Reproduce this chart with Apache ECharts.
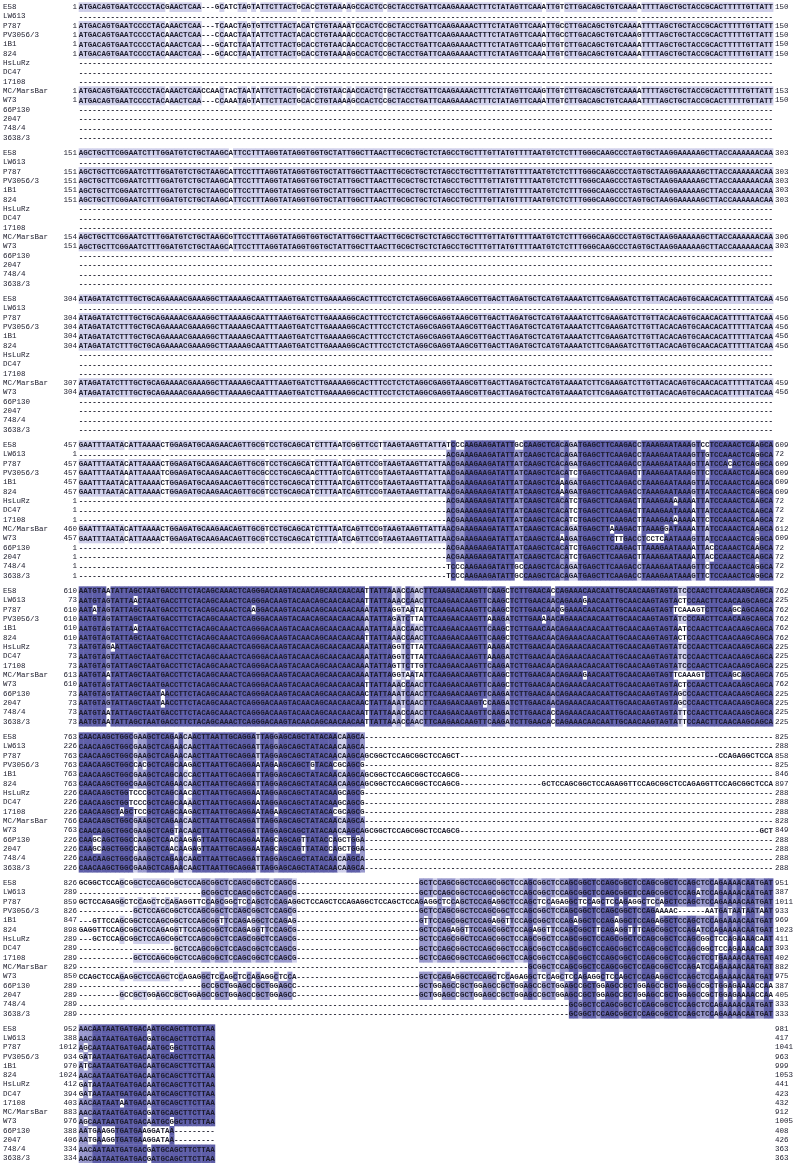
<!DOCTYPE html>
<html>
<head>
<meta charset="utf-8">
<script src="https://cdn.jsdelivr.net/npm/echarts@6/dist/echarts.min.js"></script>
<style>
  html, body { margin: 0; padding: 0; background: #fff; }
  #chart { width: 798px; height: 1163px; }
</style>
</head>
<body>
<div id="chart"></div>
<script>
  // sequence names (rows)
  const names = ['E58', 'LW613', 'P787', 'PV3056/3', 'iB1', '824', 'HsLuRz', 'DC47', '17108', 'MC/MarsBar', 'W73', '66P130', '2047', '748/4', '3638/3']
  const g = n => '-'.repeat(n) // run of alignment gaps

  // block 1 : columns 1..153
  const block1 = [
    'ATGACAGTGAATCCCCTACGAACTCAA' + g(3) + 'GCATCTAGTATTCTTACTGCACCTGTAAAAGCCACTCCGCT' + 'ACCTGATTCAAGAAAACTTTCTATAGTTCAAATTGTCTTGACAGCTGTCAAAATTTTAGCTGCTACCGCACTTTTTGTTATT',
    g(153),
    'ATGACAGTGAATCCCCTACAAACTCAA' + g(3) + 'TCAACTAGTGTTCTTACTACATCTGTAAAATCCACTCCGCT' + 'ACCTGATTCAAGAAAACTTTCTATAGTTCAAATTGCCTTGACAGCTGTCAAAATTTTAGCTGCTACCGCACTTTTTGTTATT',
    'ATGACAGTGAATCCCCTACAAACTCAA' + g(3) + 'CCAACTAATATTCTTACTACACCTGTAAAACCCACTCCGCT' + 'ACCTGATTCAAGAAAACTTTCTATAGTTCAAATTGCCTTGACAGCTGTCAAAGTTTTAGCTGCTACCGCACTTTTTGTTATT',
    'ATGACAGTGAATCCCCTACAAACTCAA' + g(3) + 'GCATCTAATATTCTTACTGCACCTGTAACAACCACTCCGCT' + 'ACCTGATTCAAGAAAACTTTCTATAGTTCAAGTTGTCTTGACAGCTGTCAAAATTTTAGCTGCTACCGCACTTTTTGTTATT',
    'ATGACAGTGAATCCCCTACAAACTCAA' + g(3) + 'GCACCTAATATTCTTACTGCACCTGTAAAAGCCACTCCGCT' + 'ACCTGATTCAAGAAAACTTTCTATAGTTCAAATTGTCTTGACAGCTGTCAAAATTTTAGCTGCTACCGCACTTTTTGTTATT',
    g(153),
    g(153),
    g(153),
    'ATGACAGTGAATCCCCTACAAACTCAACCAACTACTAATATTCTTACTGCACCTGTAACAACCACTCTGCT' + 'ACCTGATTCAAGAAAACTTTCTATAGTTCAAGTTGTCTTGACAGCTGTCAAAATTTTAGCTGCTACCGCACTTTTTGTTATT',
    'ATGACAGTGAATCCCCTACAAACTCAA' + g(3) + 'CCAAATAGTATTCTTACTGCACCTGTAAAAGCCACTCCGCT' + 'ACCTGATTCAAGAAAACTTTCTATAGTTCAAATTGTCTTGACAGCTGTCAAAATTTTAGCTGCTACCGCACTTTTTGTTATT',
    g(153),
    g(153),
    g(153),
    g(153)
  ]

  // block 2
  const b2a = 'AGCTGCTTCGGAATCTTTGGATGTCTGCTAAGCATTCCTTTAGGTATAGGTGGTGCTATTGGCTTAACTTG'
  const b2g = 'AGCTGCTTCGGAATCTTTGGATGTCTGCTAAGCGTTCCTTTAGGTATAGGTGGTGCTATTGGCTTAACTTG'
  const b2z = 'CGCTGCTCTAGCCTGCTTTGTTATGTTTTAATGTCTCTTTGGGCAAGCCCTAGTGCTAAGGAAAAAGCTTACCAAAAAACAA'
  const block2 = [
    b2a + b2z, g(153), b2a + b2z, b2a + b2z, b2g + b2z, b2a + b2z,
    g(153), g(153), g(153),
    b2g + b2z, b2a + b2z,
    g(153), g(153), g(153), g(153)
  ]

  // block 3
  const b3 = 'ATAGATATCTTTGCTGCAGAAAACGAAAGGCTTAAAAGCAATTTAAGTGATCTTGAAAAGGCACTTTCCTCTCTAGGCGAGGTAAGCGTTGACTTAGATGCTCATGTAAAATCTTCGAAGATCTTGTTACACAGTGCAACACATTTTTATCAA'
  const block3 = [
    b3, g(153), b3, b3, b3, b3,
    g(153), g(153), g(153),
    b3, b3,
    g(153), g(153), g(153), g(153)
  ]

  // block 4
  const b4p = 'GAATTTAATACATTAAAACTGGAGATGCAAGAACAGTTGCGTCCTGCAGCATCTTTAATCAGTTCCGTAA'
  const block4 = [
    'GAATTTAATACATTAAAACTGGAGATGCAAGAACAGTTGCGTCCTGCAGCATCTTTAATCGGTTCCTTAA' + 'GTAAGTTATTATCCCAAGAAGATATTGCCAAGCTCACAGATGAGCTTCAAGACCTAAAGAATAAAGTCCTCCAAACTCAAGCA',
    g(81) + 'ACGAAAGAAGATATTATCAAGCTCACAGATGAGCTTCAAGACCTAAAGAATAAAGTTGTCCAAACTCAGGCA',
    b4p + 'GTAAGTTATTAACGAAAGAAGATATTATCAAGCTCACAGATGAGCTTCAAGACCTAAAGAATAAAGTTATCCACACTCAGGCA',
    'GAATTTAATAAATTAAAATCGGAGATGCAAGAACAGTTGCGCCCTGCAGCAACTTTAGTCAGTTCCGTAA' + 'GTAAGTTATTAACGAAAGAAGATATTATCAAGCTCACATCTGAGCTTCAAGACTTAAAGAATAAAGTTCTCCAAACTCAAGCA',
    b4p + 'GTAAGTTATTAACGAAAGAAGATATTATCAAGCTCAAAGATGAGCTTCAAGACCTAAAGAATAAAGTTATCCAAACTCAAGCA',
    b4p + 'GTAAGTTATTAACGAAAGAAGATATTATCAAGCTCAAAGATGAGCTTCAAGACCTAAAGAATAAAGTTATCCAAACTCAGGCA',
    g(81) + 'ACGAAAGAAGATATTATCAAGCTCACATCTGAGCTTCAAGACTTAAAGAAAAAAATTATCCAAACTCAAGCA',
    g(81) + 'ACGAAAGAAGATATTATCAAGCTCACATCTGAGCTTCAAGACTTAAAGAATAAAATTATCCAAACTCAAGCA',
    g(81) + 'ACGAAAGAAGATATTATCAAGCTCACATCTGAGCTTCAAGACTTAAAGAAAAAAATTCTCCAAACTCAAGCA',
    b4p + 'GTAAGTTATTAACGAAAGAAGATATTATCAAGCTCACAGATGAGCTTAAAGACTTAAAGGATAAAATTATCCAAACTCAAGCA',
    b4p + 'GTAAGTTATTAACGAAAGAAGATATTATCAAGCTCAAAGATGAGCTTCTTGACCTCCTCAATAAAGTTATCCAAACTCAGGCA',
    g(81) + 'ACGAAAGAAGATATTATCAAGCTCACATCTGAGCTTCAAGACTTAAAGAATAAAATTACCCAAACTCAAGCA',
    g(81) + 'ACGAAAGAAGATATTATCAAGCTCACATCTGAGCTTCAAGACTTAAAGAATAAAATTACCCAAACTCAAGCA',
    g(81) + 'TCCCAAGAAGATATTGCCAAGCTCACAGATGAGCTTCAAGACCTAAAGAATAAAGTTCTCCAAACTCAGGCA',
    g(81) + 'TCCCAAGAAGATATTGCCAAGCTCACAGATGAGCTTCAAGACCTAAAGAATAAAGTTCTCCAAACTCAGGCA'
  ]

  // block 5
  const block5 = [
    'AATGTAATATTAGCTAATGACCTTCTACAGCAAACTCAGGGACAAGTACAACAGCAACAACAATTATTAA' + 'A' + 'CCAACTTCAAGAACAAGTTCAAGCTCTTGAACACCAGAAACAACAATTGCAACAAGTAGTATCCCAACTTCAACAAGCAGCA',
    'AATGTAGTATTAACTAATGACCTTCTACAGCAAACTCAGGGACAAGTACAACAGCAACAACAATTATTAA' + 'A' + 'CCAACTTCAAGAACAAGTTCAAGCTCTTGAACAACAGAAAGAACAATTGCAACAAGTAGTACTCCAACTTCAACAAGCAGCA',
    'AATATAGTATTAGCTAATGACCTTCTACAGCAAACTCAAGGACAAGTACAACAGCAACAACAAATATTAG' + 'G' + 'TAATATTCAAGAACAAGTTCAAGCTCTTGAACAACGGAAACAACAATTGCAACAAGTAGT' + 'TCAAAGTCTTCAAGCAGCAGCA',
    'AATGTAGTATTAGCTAATGACCTTCTACAGCAAACTCAGGGACAAGTACAACAGCAACAACAAATATTAG' + 'A' + 'TCTTATTCAAGAACAAGTTAAAGATCTTGAAAAACAGAAACAACAATTGCAACAAGTAGTATCCCAACTTCAACAAGCAGCA',
    'AATGTAGTATTAACTAATGACCTTCTACAGCAAACTCAGGGACAAGTACAACAGCAACAACAAATATTAA' + 'A' + 'CCAACTTCAAGAACAAGTTCAAGCTCTTGAACAACAGAAACAACAATTGCAACAAGTAGT' + 'AATCCAACTTCAACAAGCAGCA',
    'AATGTAGTATTAGCTAATGACCTTCTACAGCAAACTCAGGGACAAGTACAACAGCAACAACAATTATTAA' + 'A' + 'CCAACTTCAAGAACAAGTTCAAGCTCTTGAACAACAGAAACAACAATTGCAACAAGTAGTACTCCAACTTCAACAAGCAGCA',
    'AATGTAGAATTAGCTAATGACCTTCTACAGCAAACTCAGGGACAAGTACAACAGCAACAACAAATATTAG' + 'G' + 'TCTTATTCAAGAACAAGTTAAAGATCTTGAACAACAGAAACAACAATTGCAACAAGTAGTATCCCAACTTCAACAAGCAGCA',
    'AATGTAGTATTAGCTAATGACCTTCTACAGCAAACTCAGGGACAAGTACAACAGCAACAACAAATATTAG' + 'G' + 'TCTTATTCAAGAACAAGTTAAAGATCTTGAACAACAGAAACAACAATTGCAACAAGTAGTATCCCAACTTCAACAAGCAGCA',
    'AATGTAGTATTAGCTAATGACCTTCTACAGCAAACTCAGGGACAAGTACAACAGCAACAACAAATATTAG' + 'T' + 'TCTTGTTCAAGAACAAGTTCAAGATCTTGAACAACAGAAACAACAATTGCAACAAGTAGTATCCCAACTTCAACAAGCAGCA',
    'AATGTAATATTAGCTAATGACCTTCTACAGCAAACTCAGGGACAAGTACAACAGCAACAACAAATATTAG' + 'G' + 'TAATATTCAAGAACAAGTTCAAGCTCTTGAACAACAGAAAGAACAATTGCAACAAGTAGT' + 'TCAAAGTCTTCAAGCAGCAGCA',
    'AATGTAGTATTAGCTAATGACCTTCTACAGCAAACTCAGGGACAAGTACAACAGCAACAACAATTATTAA' + 'A' + 'CCAACTTCAAGAACAAGTTCAAGCTCTTGAACAACAGAAACAACAATTGCAACAAGTAGTACTCCAACTTCAACAAGCAGCA',
    'AATGTAGTATTAGCTAATAACCTTCTACAGCAAACTCAGGGACAAGTACAACAGCAACAACAACTATTAA' + 'A' + 'TCAACTTCAAGAACAAGTTCAAGATCTTGAACAACAGAAACAACAATTGCAACAAGTAGTAGCCCAACTTCAACAAGCAGCA',
    'AATGTAGTATTAGCTAATAACCTTCTACAGCAAACTCAGGGACAAGTACAACAGCAACAACAACTATTAA' + 'A' + 'TCAACTTCAAGAACAAGTCCAAGATCTTGAACAACAGAAACAACAATTGCAACAAGTAGTAGCCCAACTTCAACAAGCAGCA',
    'AATGTAATATTAGCTAATGACCTTCTACAGCAAACTCAGGGACAAGTACAACAGCAACAACAATTATTAA' + 'A' + 'CCAACTTCAAGAACAAGTTCAAGATCTTGAACACCAGAAACAACAATTGCAACAAGTAGTATTCCAACTTCAACAAGCAGCA',
    'AATGTAATATTAGCTAATGACCTTCTACAGCAAACTCAGGGACAAGTACAACAGCAACAACAATTATTAA' + 'A' + 'CCAACTTCAAGAACAAGTTCAAGATCTTGAACACCAGAAACAACAATTGCAACAAGTAGTATTCCAACTTCAACAAGCAGCA'
  ]

  // block 6
  const b6 = 'CAACAAGCTGGCGAAGCTCAGAACAACTTAATTGCAGGATTAGGAGCAGCTATACAACAAGCA'
  const block6 = [
    b6 + g(90),
    b6 + g(90),
    b6 + 'GCGGCTCCAGCGGCTCCAGCT' + g(57) + 'CCAGAGGCTCCA',
    'CAACAAGCTGGCCACGCTCAGCAAGACTTAATTGCAGGAATAGAAGCAGCTGTACACGCAGCG' + g(90),
    'CAACAAGCTGGCGAAGCTCAGCACCACTTAATTGCAGGATTAGGAGCAGCTATACAACAAGCA' + 'GCGGCTCCAGCGGCTCCAGCG' + g(69),
    b6 + 'GCGGCTCCAGCGGCTCCAGCG' + g(18) + 'GCTCCAGCGGCTCCAGAGGTTCCAGCGGCTCCAGAGGTTCCAGCGGCTCCA',
    'CAACAAGCTGGTCCCGCTCAGCAACACTTAATTGCAGGAATAGGAGCAGCTATACAAGCAGCG' + g(90),
    'CAACAAGCTGGTCCCGCTCAGCAAAACTTAATTGCAGGAATAGGAGCAGCTATACAAGCAGCG' + g(90),
    'CAACAAGCTAGCTCCGCTCAGCAAGACTTAATTGCAGGAATAGAAGCAGCTATACACGCAGCG' + g(90),
    b6 + g(90),
    'CAACAAGCTGGCGAAGCTCAGTACAACTTAATTGCAGGATTAGGAGCAGCTATACAACAAGCA' + 'GCGGCTCCAGCGGCTCCAGCG' + g(66) + 'GCT',
    'CAAGCAGCTGGCCAAGCTCAACAAGAGTTAATTGCAGGAATAGCAGCAGTTATACCAGCTGGA' + g(90),
    'CAAGCAGCTGGCCAAGCTCAACAAGAGTTAATTGCAGGAATAGCAGCAGTTATACCAGCTGGA' + g(90),
    b6 + g(90),
    b6 + g(90)
  ]

  // block 7
  const b7r = 'GCTCCAGCGGCTCCAGCGGCTCCAGCGGCTCCAGCGGCTCCAGCGGCTCCAGCGGCTCCAGCGGCTCCAGAAAACAAT'
  const b7w = 'GCTGGAGCCGCTGGAGCCGCTGGAGCCGCTGGAGCCGCTGGAGCCGCTGGAGCCGCTGGAGCCGCTGGAGAAAACCAA'
  const block7 = [
    'GCGGCTCCAGCGGCTCCAGCGGCTCCAGCGGCTCCAGCGGCTCCAGCG' + g(27) + 'GCTCCAGCGGCTCCAGCGGCTCCAGCGGCTCCAGCGGCTCCAGCGGCTCCAGCGGCTCCAGCTCCAGAAAACAATGAT',
    g(27) + 'GCGGCTCCAGCGGCTCCAGCG' + g(27) + 'GCTCCAGCGGCTCCAGCGGCTCCAGCGGCTCCAGCGGCTCCAGCGGCTCCAGCGGCTCCAGATCCAGAAAACAATGAT',
    'GCTCCAGAGGCTCCAGCTCCAGAGGTTCCAGCGGCTCCAGCTCCAGAGGCTCCAGCTCCAGAGGCTCCAGCTCCA' + 'GAGGCTCCAGCTCCAGAGGCTCCAGCTCCAGAGGCTCCAGCTCCAGAGGCTCCAGCTCCAGCTCCAGAAAACAATGAT',
    g(12) + 'GCTCCAGCGGCTCCAGCGGCTCCAGCGGCTCCAGCG' + g(27) + 'GCTCCAGCGGCTCCAGCGGCTCCAGCGGCTCCAGCGGCTCCAGCGGCTCCAGAAAAC' + g(6) + 'AATGATAATAATAAT',
    g(3) + 'GTTCCAGCGGCTCCAGCGGCTCCAGCGGTTCCAGAGGCTCCAGAG' + g(27) + 'GTTCCAGCGGCTCCAGAGGTTCCAGCGGCTCCAGAGGCTCCAGAGGCTCCAGAGGCTCCAGCTCCAGAAAACAATGAT',
    'GAGGTTCCAGCGGCTCCAGAGGTTCCAGCGGCTCCAGAGGTTCCAGCG' + g(27) + 'GCTCCAGAGGTTCCAGCGGCTCCAGAGGTTCCAGCGGCTTCAGAGGTTTCAGCGGCTCCAGATCCAGAAAACAATGAT',
    g(3) + 'GCTCCAGCGGCTCCAGCGGCTCCAGCGGCTCCAGCGGCTCCAGCG' + g(27) + b7r,
    g(21) + 'GCTCCAGCGGCTCCAGCGGCTCCAGCG' + g(27) + b7r,
    g(12) + 'GCTCCAGCGGCTCCAGCGGCTCCAGCGGCTCCAGCG' + g(27) + 'GCTCCAGCGGCTCCAGCGGCTCCAGCGGCTCCAGCGGCTCCAGCGGCTCCAGCGGCTCCAGCTCCTGAAAACAATGAT',
    g(99) + 'GCGGCTCCAGCGGCTCCAGCGGCTCCAGCGGCTCCAGATCCAGAAAACAATGAT',
    'CCAGCTCCAGAGGCTCCAGCTCCAGAGGCTCCAGCTCCAGAGGCTCCA' + g(27) + 'GCTCCAGAGGCTCCAGCTCCAGAGGCTCCAGCTCCAGAGGCTCCAGCTCCAGAGGCTCCAGCTCCAGAAAACAATGAT',
    g(27) + 'GCCGCTGGAGCCGCTGGAGCC' + g(27) + b7w,
    g(9) + 'GCCGCTGGAGCCGCTGGAGCCGCTGGAGCCGCTGGAGCC' + g(27) + b7w,
    g(108) + 'GCGGCTCCAGCGGCTCCAGCGGCTCCAGCTCCAGAAAACAATGAT',
    g(108) + 'GCGGCTCCAGCGGCTCCAGCGGCTCCAGCTCCAGAAAACAATGAT'
  ]

  // block 8 : last 30 columns
  const block8 = [
    'AACAATAATGATGACAATGCAGCTTCTTAA',
    'AACAATAATGATGACGATGCAGCTTCTTAA',
    'AGCAATAATGATGACAATGCGGCTTCTTAA',
    'GATAATAATGATGACAATGCAGCTTCTTAA',
    'ATCAATAATGATGACAATGCAGCTTCTTAA',
    'AACAATAATGATGACAATGCAGCTTCTTAA',
    'GATAATAATGATGACAATGCAGCTTCTTAA',
    'GATAATAATGATGACAATGCAGCTTCTTAA',
    'AACAATAATAATGACAATGCAGCTTCTTAA',
    'AACAATAATGATGACGATGCAGCTTCTTAA',
    'AGCAATAATGATGACAATGCGGCTTCTTAA',
    'AATGAAGGTGATGAAGGATAA' + g(9),
    'AATGAAGGTGATGAAGGATAA' + g(9),
    'AACAATAATGATGACGATGCAGCTTCTTAA',
    'AACAATAATGATGACGATGCAGCTTCTTAA'
  ]

  const blocks = [block1, block2, block3, block4, block5, block6, block7, block8]

  // layout
  const COLS = 153
  const CELL_W = 4.538
  const ROW_H = 9.33
  const SEQ_LEFT = 78.7
  const FIRST_ROW_Y = 7
  const BLOCK_STEP = 146
  const FONT = '"Liberation Mono", "DejaVu Sans Mono", monospace'
  const TEXT_COLOR = '#1b1b2b'
  const SHADES = [null, '#cfcfea', '#9898cc', '#5e5ea8'] // >40%, >60%, >80% identity

  // percent identity shading, as in Jalview
  function identityLevels(rows) {
    const n = rows.length
    const out = rows.map(() => [])
    const len = Math.max(...rows.map(r => r.length))
    for (let c = 0; c < len; c++) {
      const cnt = {}
      rows.forEach(r => {
        const ch = r[c]
        if (ch && ch !== '-') cnt[ch] = (cnt[ch] || 0) + 1
      })
      let max = 0
      for (const k in cnt) max = Math.max(max, cnt[k])
      const pct = max * 100 / n
      const lvl = pct > 80 ? 3 : pct > 60 ? 2 : pct > 40 ? 1 : 0
      rows.forEach((r, i) => {
        const ch = r[c]
        out[i][c] = (ch && ch !== '-' && cnt[ch] === max) ? lvl : 0
      })
    }
    return out
  }

  const chart = echarts.init(document.getElementById('chart'))
  const grids = []
  const xAxes = []
  const yAxes = []
  const series = []
  const counts = names.map(() => 0)
  const bad = []

  blocks.forEach((rows, b) => {
    const starts = []
    const ends = []
    rows.forEach((r, i) => {
      if (b < 7 && r.length !== COLS) bad.push(b + 1 + ':' + names[i] + ':' + r.length)
      const n = r.replace(/-/g, '').length
      if (n > 0) {
        starts.push(counts[i] + 1)
        counts[i] += n
        ends.push(counts[i])
      } else {
        starts.push('')
        ends.push('')
      }
    })
    const lv = identityLevels(rows)
    const shadeCells = []
    const letterCells = []
    rows.forEach((r, i) => {
      for (let c = 0; c < r.length; c++) {
        letterCells.push({ value: [c, i], ch: r[c] })
        if (lv[i][c] > 0) shadeCells.push({ value: [c, i], lvl: lv[i][c] })
      }
    })

    grids.push({
      left: SEQ_LEFT,
      top: FIRST_ROW_Y + b * BLOCK_STEP - ROW_H / 2,
      width: COLS * CELL_W,
      height: names.length * ROW_H
    })
    xAxes.push({ gridIndex: b, type: 'value', min: -0.5, max: COLS - 0.5, show: false })
    yAxes.push({
      gridIndex: b,
      type: 'category',
      data: names,
      inverse: true,
      axisLine: { show: false },
      axisTick: { show: false },
      splitLine: { show: false },
      axisLabel: {
        interval: 0,
        align: 'left',
        margin: SEQ_LEFT - 3,
        formatter: (v, i) => '{n|' + v + '}{s|' + (starts[i] === '' ? ' ' : starts[i]) + '}',
        rich: {
          n: { width: 54, align: 'left', fontFamily: FONT, fontSize: 7.5, color: TEXT_COLOR },
          s: { width: 20, align: 'right', fontFamily: FONT, fontSize: 7.5, color: TEXT_COLOR }
        }
      }
    })
    yAxes.push({
      gridIndex: b,
      type: 'category',
      data: names,
      inverse: true,
      position: 'right',
      axisLine: { show: false },
      axisTick: { show: false },
      splitLine: { show: false },
      axisLabel: {
        interval: 0,
        align: 'left',
        margin: 2,
        fontFamily: FONT,
        fontSize: 7.5,
        color: TEXT_COLOR,
        formatter: (v, i) => String(ends[i])
      }
    })
    series.push({
      type: 'custom',
      xAxisIndex: b,
      yAxisIndex: 2 * b,
      z: 1,
      silent: true,
      data: shadeCells,
      renderItem: (params, api) => {
        const p = api.coord([api.value(0), api.value(1)])
        const s = api.size([1, 1])
        return {
          type: 'rect',
          shape: { x: p[0] - s[0] / 2, y: p[1] - s[1] / 2, width: s[0] + 0.4, height: s[1] + 0.3 },
          style: { fill: SHADES[shadeCells[params.dataIndex].lvl] }
        }
      }
    })
    series.push({
      type: 'custom',
      xAxisIndex: b,
      yAxisIndex: 2 * b,
      z: 2,
      silent: true,
      data: letterCells,
      renderItem: (params, api) => {
        const p = api.coord([api.value(0), api.value(1)])
        return {
          type: 'text',
          x: p[0],
          y: p[1] + 0.5,
          style: {
            text: letterCells[params.dataIndex].ch,
            align: 'center',
            verticalAlign: 'middle',
            font: 'bold 7.5px ' + FONT,
            fill: TEXT_COLOR
          }
        }
      }
    })
  })

  const option = {
    animation: false,
    backgroundColor: '#fff',
    grid: grids,
    xAxis: xAxes,
    yAxis: yAxes,
    series: series,
    graphic: bad.length ? [{ type: 'text', right: 5, bottom: 5, style: { text: bad.join(' '), fill: 'red', font: '10px sans-serif' } }] : []
  }
  chart.setOption(option)
</script>
</body>
</html>
